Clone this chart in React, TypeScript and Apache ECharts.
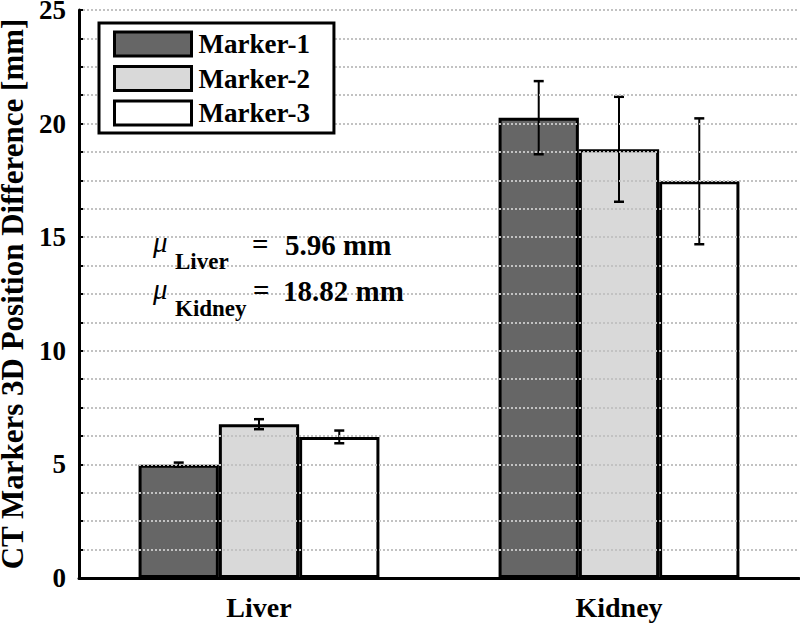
import React, { useEffect, useRef } from "react";
import * as echarts from "echarts";

const categories = ["Liver", "Kidney"];
const seriesNames = ["Marker-1", "Marker-2", "Marker-3"];
const marker1 = [4.99, 20.26];
const marker2 = [6.77, 18.87];
const marker3 = [6.21, 17.46];
const err1 = [0.09, 1.61];
const err2 = [0.22, 2.31];
const err3 = [0.28, 2.77];
const fills = ["#666666", "#d9d9d9", "#ffffff"];
const meanLiver = "5.96 mm";
const meanKidney = "18.82 mm";

const FONT = "Liberation Serif";
const BAR_FRAC = 0.223;

export default function App() {
  const ref = useRef<HTMLDivElement>(null);
  useEffect(() => {
    document.body.style.margin = "0";
    const chart = echarts.init(ref.current!, null, { renderer: "svg" });
    const values = [marker1, marker2, marker3];
    const errs = [err1, err2, err3];
    const barSeries = values.map((v, i) => ({
      type: "bar",
      name: seriesNames[i],
      data: v,
      barWidth: BAR_FRAC * 100 + "%",
      barGap: "0%",
      itemStyle: { color: fills[i], borderColor: "#000", borderWidth: 3 },
      z: 2,
    }));
    const errSeries = values.map((v, i) => ({
      type: "custom",
      name: seriesNames[i] + " err",
      data: v.map((val, j) => [j, val, errs[i][j]]),
      z: 5,
      renderItem: (params: any, api: any) => {
        const cat = api.value(0);
        const val = api.value(1);
        const e = api.value(2);
        const band = api.size([1, 0])[0];
        const off = (i - 1) * band * BAR_FRAC;
        const top = api.coord([cat, val + e]);
        const bot = api.coord([cat, val - e]);
        const x = top[0] + off;
        const cap = 5;
        const style = { stroke: "#000", lineWidth: 2 };
        return {
          type: "group",
          children: [
            { type: "line", shape: { x1: x, y1: top[1], x2: x, y2: bot[1] }, style },
            { type: "line", shape: { x1: x - cap, y1: top[1], x2: x + cap, y2: top[1] }, style: { stroke: "#000", lineWidth: 2.5 } },
            { type: "line", shape: { x1: x - cap, y1: bot[1], x2: x + cap, y2: bot[1] }, style: { stroke: "#000", lineWidth: 2.5 } },
          ],
        };
      },
    }));
    const gridDot = { color: "#c2c2c2", width: 2, type: [2, 2] as any };
    const txt = (text: string, x: number, y: number, size: number, extra: any = {}) => ({
      type: "text",
      x,
      y,
      z: 50,
      style: {
        text,
        fontFamily: FONT,
        fontSize: size,
        fontWeight: "bold",
        fill: "#000",
        verticalAlign: "middle",
        align: "left",
        ...extra,
      },
    });
    chart.setOption({
      animation: false,
      backgroundColor: "#fff",
      textStyle: { fontFamily: FONT },
      grid: { left: 79, right: 1, top: 10, bottom: 46, containLabel: false, outerBoundsMode: "none" },
      legend: {
        data: seriesNames,
        orient: "vertical",
        align: "left",
        left: 99,
        top: 23,
        padding: [7.5, 24, 6.5, 14],
        itemWidth: 77,
        itemHeight: 24,
        itemGap: 7.5,
        icon: "rect",
        backgroundColor: "#fff",
        borderColor: "#000",
        borderWidth: 3,
        z: 20,
        itemStyle: { borderColor: "#000", borderWidth: 3 },
        textStyle: {
          fontFamily: FONT,
          fontWeight: "bold",
          fontSize: 27,
          color: "#000",
          padding: [0, 0, 0, 2],
        },
      },
      xAxis: {
        type: "category",
        data: categories,
        axisLine: { show: true, lineStyle: { color: "#000", width: 3 } },
        axisTick: { show: false },
        axisLabel: {
          fontFamily: FONT,
          fontWeight: "bold",
          fontSize: 28,
          color: "#000",
          margin: 15,
        },
        splitLine: { show: false },
        z: 10,
      },
      yAxis: {
        type: "value",
        min: 0,
        max: 25,
        interval: 5,
        name: "CT Markers 3D Position Difference [mm]",
        nameLocation: "middle",
        nameGap: 43,
        nameTextStyle: {
          fontFamily: FONT,
          fontWeight: "bold",
          fontSize: 31,
          color: "#000",
        },
        axisLine: { show: true, lineStyle: { color: "#000", width: 3 } },
        axisTick: { show: true, inside: true, length: 4, lineStyle: { color: "#000", width: 2 } },
        minorTick: { show: true, splitNumber: 4, length: 4, lineStyle: { color: "#000", width: 2 } },
        axisLabel: {
          fontFamily: FONT,
          fontWeight: "bold",
          fontSize: 27,
          color: "#000",
          margin: 13,
        },
        splitLine: { show: true, lineStyle: gridDot },
        minorSplitLine: { show: true, lineStyle: gridDot },
        z: 10,
      },
      series: [...barSeries, ...errSeries],
      graphic: [
        txt("\u03bc", 153, 242, 29, { fontStyle: "italic", fontWeight: "normal" }),
        txt("Liver", 175, 261, 23),
        txt("=", 252, 244, 29),
        txt(meanLiver, 285, 245, 29),
        txt("\u03bc", 153, 289, 29, { fontStyle: "italic", fontWeight: "normal" }),
        txt("Kidney", 175, 308, 23),
        txt("=", 253, 290, 29),
        txt(meanKidney, 283, 291, 29),
      ],
    });
    return () => chart.dispose();
  }, []);
  return <div ref={ref} style={{ width: 800, height: 624 }} />;
}
